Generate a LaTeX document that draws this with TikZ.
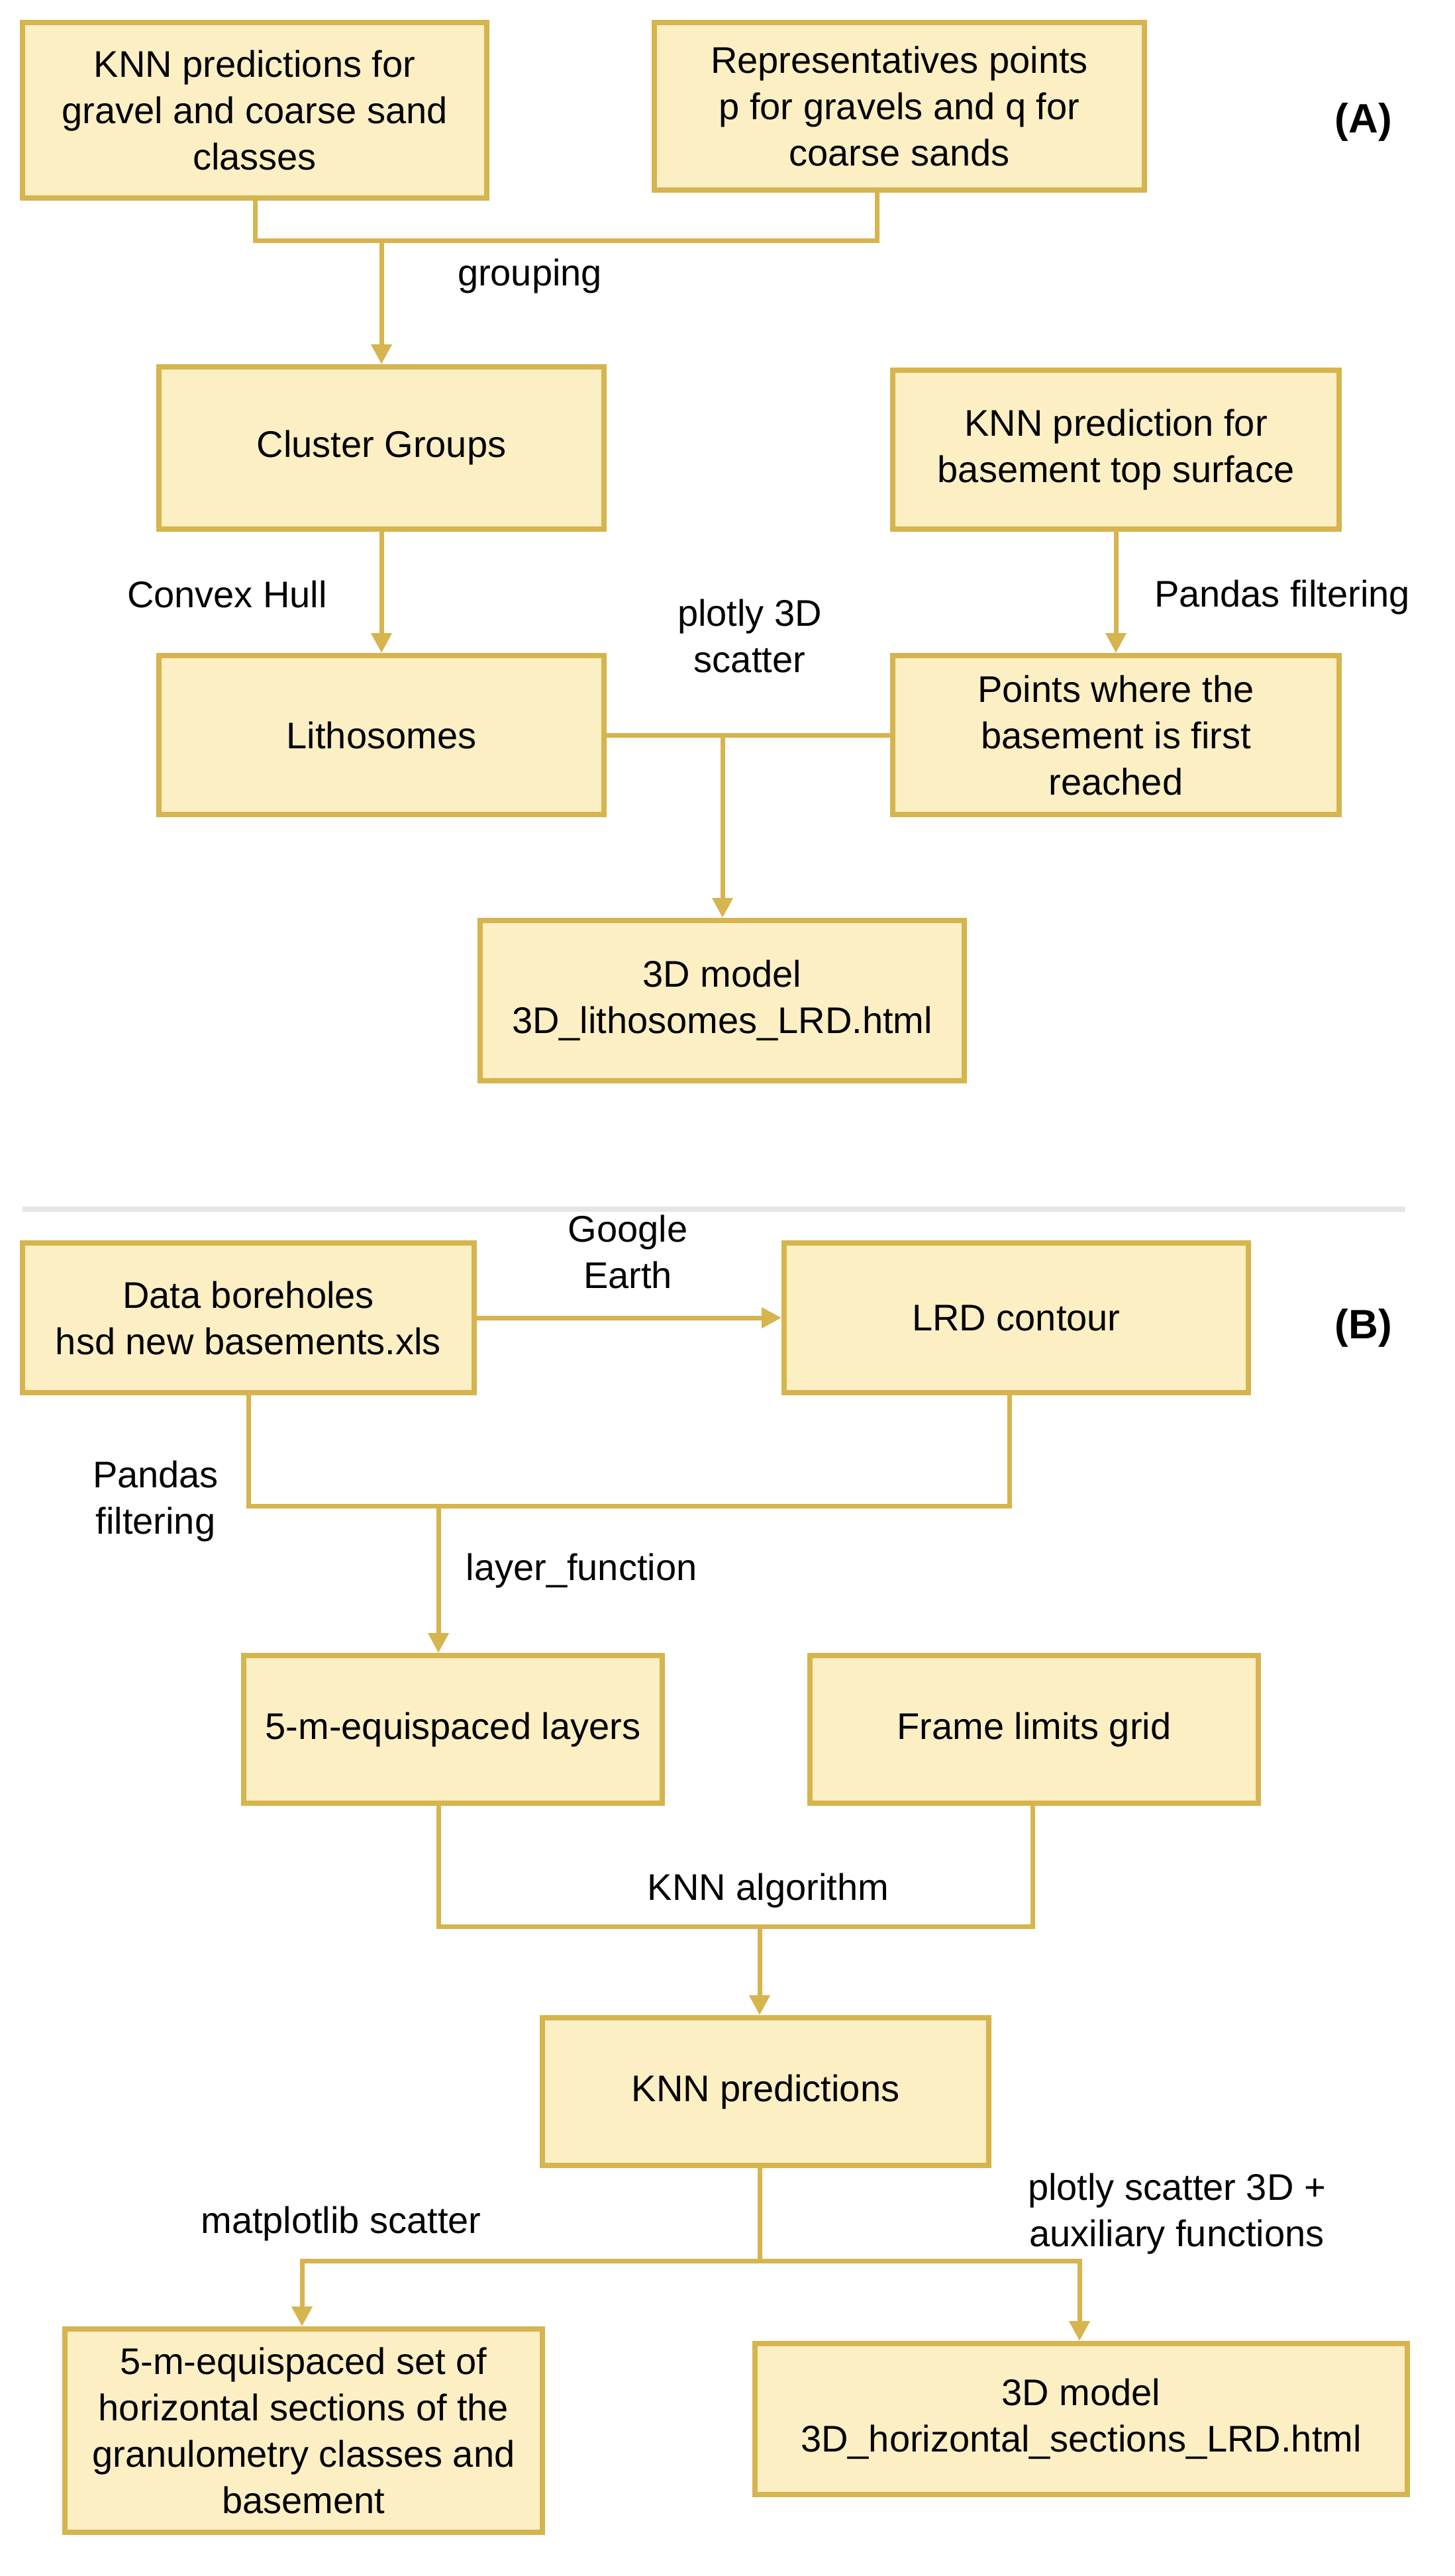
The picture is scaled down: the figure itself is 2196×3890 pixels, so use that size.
\documentclass[tikz,border=0pt]{standalone}
\usepackage{fontspec}
\setmainfont{Liberation Sans}
\usetikzlibrary{arrows.meta}
\definecolor{bfill}{HTML}{FCEFC4}
\definecolor{bline}{HTML}{D6B44E}
\begin{document}
\begin{tikzpicture}[x=1pt,y=-1pt,
  box/.style={draw=bline,fill=bfill,line width=8pt,align=center,inner sep=0pt,
    font=\fontsize{56}{70}\selectfont},
  lab/.style={align=center,font=\fontsize{56}{70}\selectfont},
  con/.style={draw=bline,line width=7pt},
  arr/.style={con,-{Triangle[width=30pt,length=30pt]}}]
\useasboundingbox[fill=white] (0,0) rectangle (2196,3890);
\newcommand\bx[6]{\node[box,minimum width=#4-#2,minimum height=#5-#3] (#1) at ({(#2+#4)/2},{(#3+#5)/2}) {#6};}
% (A)
\bx{a1}{34}{34}{735}{299}{KNN predictions for\\gravel and coarse sand\\classes}
\bx{a2}{988}{34}{1728}{287}{Representatives points\\p for gravels and q for\\coarse sands}
\bx{cg}{240}{554}{912}{799}{Cluster Groups}
\bx{kb}{1348}{559}{2022}{799}{KNN prediction for\\basement top surface}
\bx{li}{240}{990}{912}{1230}{Lithosomes}
\bx{pb}{1348}{990}{2022}{1230}{Points where the\\basement is first\\reached}
\bx{m3}{725}{1390}{1456}{1632}{3D model\\3D\_lithosomes\_LRD.html}
\node[font=\bfseries\fontsize{62}{70}\selectfont] (la) at (2059,184) {(A)};
\coordinate (j1) at (385,363); \coordinate (j2) at (1324,363); \coordinate (j3) at (576,363);
\draw[con] (a1.south -| j1) -- (j1) -- (j2) -- (a2.south -| j2);
\draw[arr] (j3) -- (cg.north -| j3);
\node[lab] (tg) at (800,417) {grouping};
\draw[arr] (cg.south) -- (li.north);
\node[lab] (tc) at (343,897) {Convex Hull};
\draw[arr] (kb.south) -- (pb.north);
\node[lab] (tp) at (1936,902) {Pandas filtering};
\coordinate (j4) at (1091,1110);
\draw[con] (li.east |- j4) -- (pb.west |- j4);
\draw[arr] (j4) -- (m3.north -| j4);
\node[lab] (ts) at (1132,960) {plotly 3D\\scatter};
% separator
\draw[black!10,line width=8pt] (34,1826) coordinate (s1) -- (2122,1826) coordinate (s2);
% (B)
\bx{db}{34}{1877}{716}{2103}{Data boreholes\\hsd new basements.xls}
\bx{lc}{1184}{1877}{1885}{2103}{LRD contour}
\node[font=\bfseries\fontsize{62}{70}\selectfont] (lb) at (2059,2005) {(B)};
\draw[arr] (db.east) -- (lc.west);
\node[lab] (tge) at (948,1890) {Google\\Earth};
\bx{l5}{368}{2500}{1000}{2723}{5-m-equispaced layers}
\bx{fl}{1223}{2500}{1900}{2723}{Frame limits grid}
\coordinate (k1) at (375,2274); \coordinate (k2) at (1524,2274); \coordinate (k3) at (662,2274);
\draw[con] (db.south -| k1) -- (k1) -- (k2) -- (lc.south -| k2);
\draw[arr] (k3) -- (l5.north -| k3);
\node[lab] (tpf) at (235,2267) {Pandas\\filtering};
\node[lab] (tl) at (878,2372) {layer\_function};
\bx{kp}{819}{3047}{1493}{3270}{KNN predictions}
\coordinate (k4) at (662,2909); \coordinate (k5) at (1559,2909); \coordinate (k6) at (1147,2909);
\draw[con] (l5.south -| k4) -- (k4) -- (k5) -- (fl.south -| k5);
\draw[arr] (k6) -- (kp.north -| k6);
\node[lab] (tk) at (1160,2855) {KNN algorithm};
\bx{hs}{98}{3517}{819}{3824}{5-m-equispaced set of\\horizontal sections of the\\granulometry classes and\\basement}
\bx{m4}{1140}{3539}{2125}{3767}{3D model\\3D\_horizontal\_sections\_LRD.html}
\coordinate (k7) at (1147,3414); \coordinate (k8) at (456,3414); \coordinate (k9) at (1630,3414);
\draw[con] (kp.south -| k7) -- (k7);
\draw[arr] (k7) -- (k8) -- (hs.north -| k8);
\draw[arr] (k7) -- (k9) -- (m4.north -| k9);
\node[lab] (tm) at (515,3358) {matplotlib scatter};
\node[lab] (tps) at (1777,3343) {plotly scatter 3D +\\auxiliary functions};
\end{tikzpicture}
\end{document}
